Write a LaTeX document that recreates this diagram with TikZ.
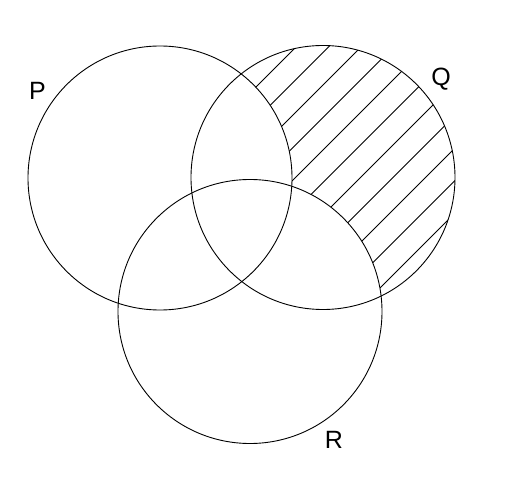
\documentclass[tikz,border=0pt]{standalone}
\usepackage{fontspec}
\setmainfont{Liberation Sans}
\begin{document}
\begin{tikzpicture}[x=1pt,y=-1pt,
  ring/.style={draw=black,line width=0.9pt},
  hatch/.style={draw=black,line width=0.8pt},
  lbl/.style={inner sep=0pt,anchor=base,font=\fontsize{25}{28}\selectfont}]
\useasboundingbox (0,0) rectangle (512,497);
\fill[white] (0,0) rectangle (512,497);
% hatching of Q only
\begin{scope}
  \clip (323,177.5) circle (132);
  \foreach \k in {-6,...,7}{
    \draw[hatch] (150,{473+32.5*\k-150}) -- (520,{473+32.5*\k-520});
  }
\end{scope}
\fill[white] (160,178) circle (132);
\fill[white] (250,311.5) circle (132);
% circles
\draw[ring] (160,178) circle (132);
\draw[ring] (323,177.5) circle (132);
\draw[ring] (250,311.5) circle (132);
% labels
\node[lbl] (P) at (37.5,100) {P};
\node[lbl] (Q) at (441,86) {Q};
\node[lbl] (R) at (334,448.5) {R};
\end{tikzpicture}
\end{document}
